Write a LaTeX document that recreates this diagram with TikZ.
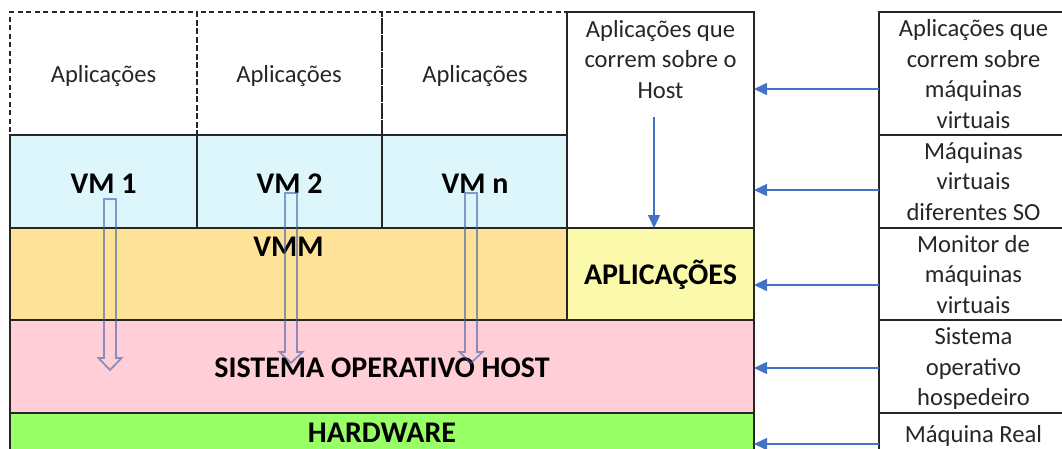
\documentclass[tikz,border=0pt]{standalone}
\usepackage{fontspec}
\setmainfont{Carlito}
\usetikzlibrary{arrows.meta}
\definecolor{linec}{RGB}{38,38,38}
\definecolor{vmfill}{RGB}{221,246,252}
\definecolor{vmmfill}{RGB}{254,226,152}
\definecolor{aplfill}{RGB}{250,250,170}
\definecolor{sofill}{RGB}{255,206,214}
\definecolor{hwfill}{RGB}{153,255,102}
\definecolor{arrowblue}{RGB}{68,114,196}
\definecolor{shaftblue}{RGB}{60,95,165}
\begin{document}
\begin{tikzpicture}[x=1pt,y=-1pt,
  cell/.style={draw=linec, line width=1.3pt, inner sep=0pt, outer sep=0pt, anchor=north west},
  dcell/.style={cell, dash pattern=on 5pt off 3.5pt, line width=1.1pt},
  txt/.style={font=\fontsize{24.6}{30.5}\selectfont, text=black!85, inner sep=0pt, align=center},
  bold/.style={font=\bfseries\fontsize{30}{35}\selectfont, text=black, inner sep=0pt},
  conn/.style={draw=arrowblue, line width=1.5pt, -{Triangle[length=13pt,width=12pt]}},
  hollow/.style={draw=shaftblue, draw opacity=0.6, line width=1.7pt, line join=miter}]
\useasboundingbox (0,0) rectangle (1062,448);
\clip (0,0) rectangle (1062,448);

% guest application areas (dashed)
\node[dcell, minimum width=187pt, minimum height=123pt] (app1) at (10,12) {};
\node[dcell, minimum width=185pt, minimum height=123pt] (app2) at (197,12) {};
\node[dcell, minimum width=185pt, minimum height=123pt] (app3) at (382,12) {};

% host applications column
\node[cell, fill=white, minimum width=187pt, minimum height=216pt] (host) at (567,12) {};

% virtual machines
\node[cell, fill=vmfill, minimum width=187pt, minimum height=93pt] (vm1) at (10,135) {};
\node[cell, fill=vmfill, minimum width=185pt, minimum height=93pt] (vm2) at (197,135) {};
\node[cell, fill=vmfill, minimum width=185pt, minimum height=93pt] (vm3) at (382,135) {};

% monitor, host applications, host OS, hardware
\node[cell, fill=vmmfill, minimum width=557pt, minimum height=92pt] (vmm) at (10,228) {};
\node[cell, fill=aplfill, minimum width=187pt, minimum height=92pt] (apl) at (567,228) {};
\node[cell, fill=sofill, minimum width=744pt, minimum height=93pt] (so) at (10,320) {};
\node[cell, fill=hwfill, minimum width=744pt, minimum height=60pt] (hw) at (10,413) {};

% legend column
\node[cell, minimum width=189pt, minimum height=123pt] (r1) at (879,12) {};
\node[cell, minimum width=189pt, minimum height=93pt] (r2) at (879,135) {};
\node[cell, minimum width=189pt, minimum height=92pt] (r3) at (879,228) {};
\node[cell, minimum width=189pt, minimum height=93pt] (r4) at (879,320) {};
\node[cell, minimum width=189pt, minimum height=60pt] (r5) at (879,413) {};

% labels
\node[txt, anchor=base] (t-app1) at (103.5,82) {Aplicações};
\node[txt, anchor=base] (t-app2) at (289,82) {Aplicações};
\node[txt, anchor=base] (t-app3) at (475,82) {Aplicações};
\node[txt, anchor=north] (t-host) at (660.5,20) {Aplicações que\\correm sobre o\\Host};

\node[bold, anchor=base] (t-vm1) at (103.5,193) {VM 1};
\node[bold, anchor=base] (t-vm2) at (289.5,193) {VM 2};
\node[bold, anchor=base] (t-vm3) at (475,193) {VM n};
\node[bold, anchor=base] (t-vmm) at (288.5,256.5) {VMM};
\node[bold, anchor=base] (t-apl) at (660.5,284) {APLICAÇÕES};
\node[bold, anchor=base] (t-so) at (382,377) {SISTEMA OPERATIVO HOST};
\node[bold, anchor=base] (t-hw) at (382,442) {HARDWARE};

\node[txt] (t-r1) at (973.5,74) {Aplicações que\\correm sobre\\máquinas\\virtuais};
\node[txt] (t-r2) at (973.5,181.5) {Máquinas\\virtuais\\diferentes SO};
\node[txt] (t-r3) at (973.5,274.5) {Monitor de\\máquinas\\virtuais};
\node[txt] (t-r4) at (973.5,369) {Sistema\\operativo\\hospedeiro};
\node[txt, anchor=base] (t-r5) at (973.5,442) {Máquina Real};

% legend arrows
\coordinate (p1) at (r1.west |- 0,89);
\coordinate (p2) at (r2.west |- 0,190);
\coordinate (p3) at (r3.west |- 0,285);
\coordinate (p4) at (r4.west |- 0,368);
\coordinate (p5) at (r5.west |- 0,444);
\draw[conn] (p1) -- (p1 -| host.east);
\draw[conn] (p2) -- (p2 -| host.east);
\draw[conn] (p3) -- (p3 -| apl.east);
\draw[conn] (p4) -- (p4 -| so.east);
\draw[conn] (p5) -- (p5 -| hw.east);

% host applications run on the host
\coordinate (h1) at (654,117);
\draw[conn] (h1) -- (h1 |- apl.north);

% VM calls passed down to the host OS
\foreach \cx/\t/\h/\p in {110/199/358/370, 291/193/352/363, 471/193/352/363}
  \draw[hollow] (\cx-6,\t) -- (\cx+6,\t) -- (\cx+6,\h) -- (\cx+11.5,\h)
    -- (\cx,\p) -- (\cx-11.5,\h) -- (\cx-6,\h) -- cycle;
\end{tikzpicture}
\end{document}
